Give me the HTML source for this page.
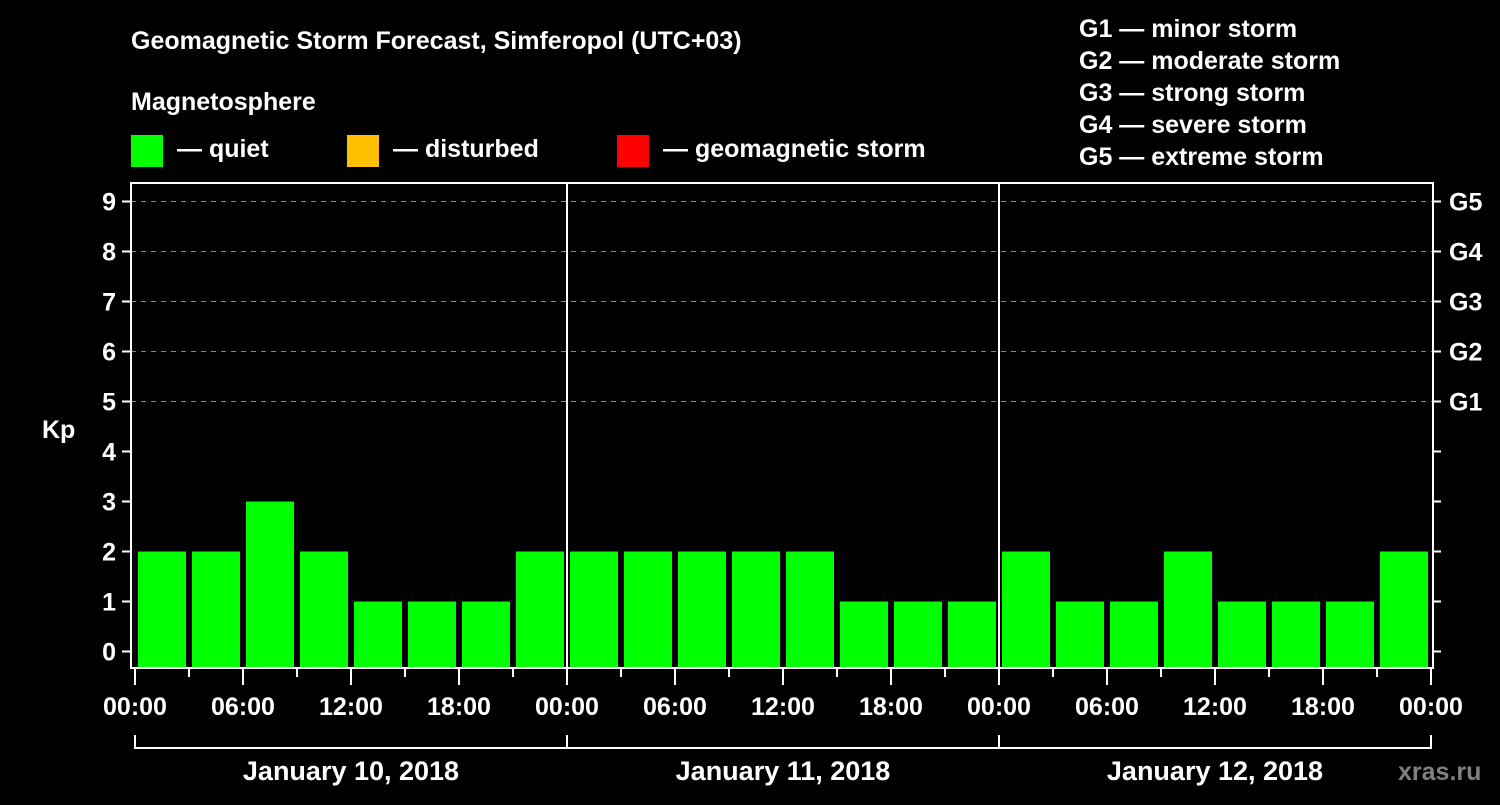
<!DOCTYPE html>
<html><head><meta charset="utf-8"><style>
body{margin:0;background:#000;width:1500px;height:800px;overflow:hidden}
svg text{font-family:"Liberation Sans",sans-serif;font-weight:bold;fill:#fff}
</style></head><body>
<svg id="c" width="1500" height="800" xmlns="http://www.w3.org/2000/svg">
<rect width="1500" height="800" fill="#000"/>
<text x="131" y="49" font-size="25">Geomagnetic Storm Forecast, Simferopol (UTC+03)</text>
<text x="131" y="110" font-size="25">Magnetosphere</text>
<rect x="131" y="135" width="32" height="32" fill="#00ff00"/>
<text x="177" y="157" font-size="25">— quiet</text>
<rect x="347" y="135" width="32" height="32" fill="#ffc000"/>
<text x="393" y="157" font-size="25">— disturbed</text>
<rect x="617" y="135" width="32" height="32" fill="#ff0000"/>
<text x="663" y="157" font-size="25">— geomagnetic storm</text>
<g font-size="25">
<text x="1079" y="37">G1 — minor storm</text>
<text x="1079" y="69">G2 — moderate storm</text>
<text x="1079" y="101">G3 — strong storm</text>
<text x="1079" y="133">G4 — severe storm</text>
<text x="1079" y="165">G5 — extreme storm</text>
</g>
<text x="42" y="438" font-size="25">Kp</text>
<text x="1398" y="780" font-size="25" fill="#808080" style="fill:#808080">xras.ru</text>
<g id="plot"></g>
</svg>
<script>
const kpValues=[2,2,3,2,1,1,1,2, 2,2,2,2,2,1,1,1, 2,1,1,2,1,1,1,2];
const yTicks=[0,1,2,3,4,5,6,7,8,9];
const gLabels=["G1","G2","G3","G4","G5"];
const gLevels=[5,6,7,8,9];
const xTickLabels=["00:00","06:00","12:00","18:00"];
const dayLabels=["January 10, 2018","January 11, 2018","January 12, 2018"];
const NS="http://www.w3.org/2000/svg";
const g=document.getElementById('plot');
const L=131,R=1433,T=183,B=668,X0=135,SLOT=54;
const y=v=>651.5-v*50;
const x=i=>X0+i*SLOT;
function mk(t,a){const e=document.createElementNS(NS,t);for(const k in a)e.setAttribute(k,a[k]);g.appendChild(e);return e;}
yTicks.forEach(v=>{
 if(v>=5){const l=mk('line',{x1:L,x2:R,y1:y(v),y2:y(v),stroke:'#888','stroke-width':1,'stroke-dasharray':'5,5'});
 
 }
 const t=mk('line',{x1:L-9,x2:L,y1:y(v),y2:y(v),stroke:'#fff','stroke-width':2});
 
 
 const t2=mk('line',{x1:R,x2:R+8,y1:y(v),y2:y(v),stroke:'#fff','stroke-width':2});
 
 
 const lb=mk('text',{x:L-15,y:y(v)+9,'font-size':25,'text-anchor':'end'});lb.textContent=v;
 
 
});
gLabels.forEach((s,i)=>{const t=mk('text',{x:1449,y:y(gLevels[i])+9,'font-size':25});t.textContent=s;
 
 });
kpValues.forEach((v,i)=>{const c=v>=5?'#ff0000':(v>=4?'#ffc000':'#00ff00');
 const r=mk('rect',{x:x(i)+3,y:y(v),width:48,height:B-y(v),fill:c});
 
 });
[1,2].forEach(d=>{const l=mk('line',{x1:x(d*8),x2:x(d*8),y1:T,y2:B,stroke:'#fff','stroke-width':2});
 
 });
const f=mk('rect',{x:L,y:T,width:R-L,height:B-T,fill:'none',stroke:'#fff','stroke-width':2});


for(let i=0;i<=kpValues.length;i++){const maj=i%2==0;
 const t=mk('line',{x1:x(i),x2:x(i),y1:B,y2:B+(maj?17:9),stroke:'#fff','stroke-width':2});
 
 
 if(maj){const lb=mk('text',{x:x(i),y:715,'font-size':25,'text-anchor':'middle'});lb.textContent=xTickLabels[(i/2)%4];
 
 }}
dayLabels.forEach((s,d)=>{const a=x(d*8),b=x(d*8+8);
 const p=mk('path',{d:`M${a},735V748H${b}V735`,stroke:'#fff','stroke-width':2,fill:'none'});
 
 
 const t=mk('text',{x:(a+b)/2,y:780,'font-size':27,'text-anchor':'middle'});t.textContent=s;
 
 });
</script>
</body></html>
